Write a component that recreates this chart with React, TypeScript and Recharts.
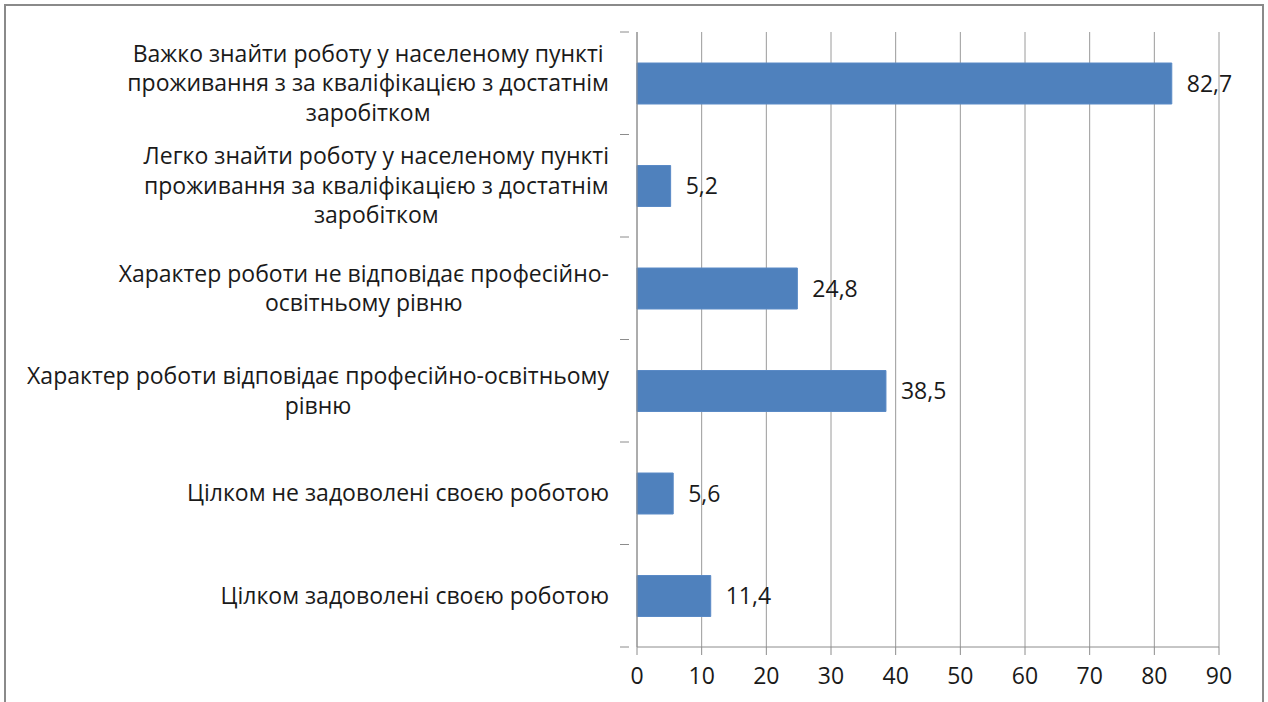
import React from 'react';
import { BarChart, Bar, XAxis, YAxis, CartesianGrid, LabelList } from 'recharts';

const categories = [
  'Важко знайти роботу у населеному пункті проживання з за кваліфікацією з достатнім заробітком',
  'Легко знайти роботу у населеному пункті проживання за кваліфікацією з достатнім заробітком',
  'Характер роботи не відповідає професійно-освітньому рівню',
  'Характер роботи відповідає професійно-освітньому рівню',
  'Цілком не задоволені своєю роботою',
  'Цілком задоволені своєю роботою',
];

// line breaks as in the picture
const labelLines = [
  ['Важко знайти роботу у населеному пункті', 'проживання з за кваліфікацією з достатнім', 'заробітком'],
  ['Легко знайти роботу у населеному пункті', 'проживання за кваліфікацією з достатнім', 'заробітком'],
  ['Характер роботи не відповідає професійно-', 'освітньому рівню'],
  ['Характер роботи відповідає професійно-освітньому', 'рівню'],
  ['Цілком не задоволені своєю роботою'],
  ['Цілком задоволені своєю роботою'],
];

const values = [82.7, 5.2, 24.8, 38.5, 5.6, 11.4];

const xTicks = [0, 10, 20, 30, 40, 50, 60, 70, 80, 90];

const data = categories.map((name, i) => ({ name, value: values[i], lines: labelLines[i] }));

const FONT = '"Open Sans", sans-serif';
const FONT_SIZE = 23;
const LINE_H = 29.5;
const BAND = 615 / categories.length;

let ctx: CanvasRenderingContext2D | null = null;
const measure = (t: string) => {
  if (!ctx) ctx = document.createElement('canvas').getContext('2d');
  if (!ctx) return t.length * 12;
  ctx.font = `${FONT_SIZE}px ${FONT}`;
  return ctx.measureText(t).width;
};

const CategoryTick = (props: any) => {
  const { x, y, index } = props;
  const lines = labelLines[index] || [];
  const blockW = Math.max(...lines.map(measure));
  const right = x - 20;
  const cx = right - blockW / 2;
  const startY = y - ((lines.length - 1) * LINE_H) / 2;
  return (
    <g>
      {index === 0 && <line x1={x - 9} x2={x} y1={y - BAND / 2} y2={y - BAND / 2} stroke="#8c8c8c" />}
      <line x1={x - 9} x2={x} y1={y + BAND / 2} y2={y + BAND / 2} stroke="#8c8c8c" />
      <text textAnchor="middle" fontFamily={FONT} fontSize={FONT_SIZE} fill="#1a1a1a">
        {lines.map((l, i) => (
          <tspan key={i} x={cx} y={startY + i * LINE_H} dy="0.35em">{l}</tspan>
        ))}
      </text>
    </g>
  );
};

const fmt = (v: any) => String(v).replace('.', ',');

export default function App() {
  return (
    <div style={{ position: 'absolute', left: 0, top: 0, width: 1268, height: 702, overflow: 'hidden', background: '#fff' }}>
      <div style={{ position: 'absolute', left: 4, top: 4, width: 1256, height: 720, border: '2px solid #8a8a8a' }} />
      <div style={{ position: 'absolute', left: 0, top: 0 }}>
        <BarChart
          width={1268}
          height={702}
          data={data}
          layout="vertical"
          margin={{ top: 32, right: 49, left: 0, bottom: 0 }}
          barSize={41}
        >
          <CartesianGrid horizontal={false} stroke="#9a9a9a" />
          <XAxis
            type="number"
            domain={[0, 90]}
            ticks={xTicks}
            interval={0}
            height={55}
            stroke="#8c8c8c"
            tickSize={8}
            tickMargin={13}
            tick={{ fontFamily: FONT, fontSize: FONT_SIZE, fill: '#1a1a1a' }}
          />
          <YAxis
            type="category"
            dataKey="name"
            width={637}
            stroke="#8c8c8c"
            tickLine={false}
            interval={0}
            tick={<CategoryTick />}
          />
          <Bar dataKey="value" fill="#4f81bd" stroke="#5a8ac6" isAnimationActive={false}>
            <LabelList
              dataKey="value"
              position="right"
              offset={15}
              formatter={fmt}
              style={{ fontFamily: FONT, fontSize: FONT_SIZE, fill: '#1a1a1a' }}
            />
          </Bar>
        </BarChart>
      </div>
    </div>
  );
}
